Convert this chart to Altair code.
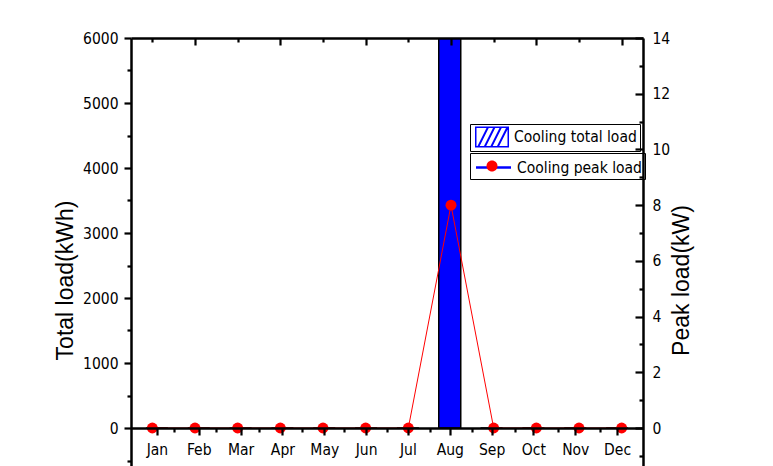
import altair as alt
import pandas as pd

# ---- data ----
months = ["Jan", "Feb", "Mar", "Apr", "May", "Jun", "Jul", "Aug", "Sep", "Oct", "Nov", "Dec"]
month_num = list(range(1, 13))
total_load = [0, 0, 0, 0, 0, 0, 0, 6300, 0, 0, 0, 0]   # Aug bar runs off the top (clipped)
peak_load = [0, 0, 0, 0, 0, 0, 0, 8, 0, 0, 0, 0]
left_major = [0, 1000, 2000, 3000, 4000, 5000, 6000]
left_minor = [-500, 500, 1500, 2500, 3500, 4500, 5500]
right_major = [0, 2, 4, 6, 8, 10, 12, 14]
right_minor = [-1, 1, 3, 5, 7, 9, 11, 13]
bottom_minor = [1.5, 2.5, 3.5, 4.5, 5.5, 6.5, 7.5, 8.5, 9.5, 10.5, 11.5]
top_major = [2, 4, 6, 8, 10, 12]
top_minor = [1, 3, 5, 7, 9, 11]
legend_labels = ["Cooling total load", "Cooling peak load"]

df = pd.DataFrame({"month": months, "m": month_num, "total": total_load, "peak": peak_load})

# ---- layout ----
W, H = 512, 428
ZB = 38  # distance of the zero line above the bottom of the plot
LEFT_TOP, RIGHT_TOP = 6000, 14
left_min = -LEFT_TOP * ZB / (H - ZB)
right_min = -RIGHT_TOP * ZB / (H - ZB)

xs = alt.Scale(domain=[0.5, 12.5], nice=False, zero=False)
ysL = alt.Scale(domain=[left_min, LEFT_TOP], nice=False, zero=False)
ysR = alt.Scale(domain=[right_min, RIGHT_TOP], nice=False, zero=False)

FN = "DejaVu Sans Condensed, Liberation Sans Narrow, sans-serif"
TF = "Liberation Sans, Arial, sans-serif"
LFS = 15.5
label_expr = "[" + ",".join(f"'{m}'" for m in months) + "][round(datum.value)-1]"


def ax(**kw):
    d = dict(grid=False, zindex=1, domainColor="black", domainWidth=2.5,
             tickColor="black", tickWidth=2.2, labelFont=FN, labelFontSize=LFS,
             labelColor="black", title=None, labelFlush=False, labelOverlap=False)
    d.update(kw)
    return alt.Axis(**d)


base = alt.Chart(df)

bars = base.mark_bar(size=22, color="#0000ff", stroke="black", strokeWidth=1.5, clip=True).encode(
    x=alt.X("m:Q", scale=xs, axis=ax(orient="bottom", offset=-ZB, values=month_num, tickSize=7,
                                     labelExpr=label_expr, labelPadding=7)),
    y=alt.Y("total:Q", scale=ysL, axis=ax(orient="left", values=left_major, tickSize=7, labelPadding=6,
                                          format="d", title="Total load(kWh)", titleFont=TF,
                                          titleFontSize=23, titleFontWeight="normal", titleColor="black",
                                          titleX=-66, titleY=242, titleAngle=270,
                                          titleBaseline="middle", titleAlign="center")),
    y2=alt.datum(0),
)

minor_bl = base.mark_point(opacity=0).encode(
    x=alt.X("m:Q", scale=xs, axis=ax(orient="bottom", offset=-ZB, values=bottom_minor, tickSize=4,
                                     labels=False, domain=False)),
    y=alt.Y("total:Q", scale=ysL, axis=ax(orient="left", values=left_minor, tickSize=4,
                                          labels=False, domain=False)),
)

top_maj = base.mark_point(opacity=0).encode(
    x=alt.X("m:Q", scale=xs, axis=ax(orient="bottom", offset=-H, values=top_major, tickSize=7,
                                     labels=False)),
    y=alt.Y("total:Q", scale=ysL, axis=None),
)
top_min = base.mark_point(opacity=0).encode(
    x=alt.X("m:Q", scale=xs, axis=ax(orient="bottom", offset=-H, values=top_minor, tickSize=4,
                                     labels=False, domain=False)),
    y=alt.Y("total:Q", scale=ysL, axis=None),
)

line = base.mark_line(color="red", strokeWidth=1).encode(
    x=alt.X("m:Q", scale=xs, axis=None),
    y=alt.Y("peak:Q", scale=ysR, axis=ax(orient="right", values=right_major, ticks=False, labelPadding=9,
                                         title="Peak load(kW)", titleFont=TF, titleFontSize=23,
                                         titleFontWeight="normal", titleColor="black",
                                         titleX=38, titleY=242, titleAngle=270,
                                         titleBaseline="middle", titleAlign="center")),
)
r_maj = base.mark_point(opacity=0).encode(
    x=alt.X("m:Q", scale=xs, axis=None),
    y=alt.Y("peak:Q", scale=ysR, axis=ax(orient="left", offset=-W, values=right_major, tickSize=8,
                                         labels=False, domain=False)),
)
r_min = base.mark_point(opacity=0).encode(
    x=alt.X("m:Q", scale=xs, axis=None),
    y=alt.Y("peak:Q", scale=ysR, axis=ax(orient="left", offset=-W, values=right_minor, tickSize=4,
                                         labels=False, domain=False)),
)

points = base.mark_circle(color="red", size=120, opacity=1).encode(
    x=alt.X("m:Q", scale=xs, axis=None),
    y=alt.Y("peak:Q", scale=ysR, axis=None),
)

# ---- legends (two bordered boxes) ----
HATCH = ("M-1.7,-1.05H1.7V1.05H-1.7Z M-1.55,-0.9V0.9H1.55V-0.9Z "
         "M-1.45,0.9L-1.23,0.9L-0.33,-0.9L-0.55,-0.9Z "
         "M-0.8,0.9L-0.58,0.9L0.32,-0.9L0.1,-0.9Z "
         "M-0.15,0.9L0.07,0.9L0.97,-0.9L0.75,-0.9Z "
         "M0.5,0.9L0.72,0.9L1.55,-0.76L1.55,-0.9L1.4,-0.9Z")
LINE = "M-1.75,0H1.75"
DOT = "M-0.55,0A0.55,0.55 0 1,1 0.55,0A0.55,0.55 0 1,1 -0.55,0Z"

LEGX = 339
common_leg = dict(orient="none", legendX=LEGX, title=None, padding=3, symbolSize=400,
                  symbolOffset=9, labelOffset=12, symbolOpacity=1, labelFont=FN,
                  labelFontSize=15.5, labelColor="black")

leg1 = alt.Chart(pd.DataFrame({"series": [legend_labels[0]]})).mark_point(
    filled=True, fill="#0000ff", strokeWidth=0, opacity=0).encode(
    shape=alt.Shape("series:N", scale=alt.Scale(range=[HATCH]),
                    legend=alt.Legend(legendY=86, strokeColor="black", fillColor="white",
                                      symbolFillColor="#0000ff", symbolStrokeWidth=0, **common_leg)))

leg2 = alt.Chart(pd.DataFrame({"series": [legend_labels[1]]})).mark_point(
    filled=False, stroke="#0000ff", strokeWidth=2.5, opacity=0).encode(
    shape=alt.Shape("series:N", scale=alt.Scale(range=[LINE]),
                    legend=alt.Legend(legendY=115, strokeColor="black", fillColor="white",
                                      symbolStrokeColor="#0000ff", symbolStrokeWidth=2.5, **common_leg)))

leg3 = alt.Chart(pd.DataFrame({"series": [legend_labels[1]]})).mark_point(
    filled=True, fill="red", strokeWidth=0, opacity=0).encode(
    shape=alt.Shape("series:N", scale=alt.Scale(range=[DOT]),
                    legend=alt.Legend(legendY=115, symbolFillColor="red", symbolStrokeWidth=0,
                                      labelExpr="''", **common_leg)))

chart = alt.layer(bars, minor_bl, top_maj, top_min, line, r_maj, r_min, points, leg1, leg2, leg3).resolve_scale(
    x="independent", y="independent", shape="independent"
).resolve_axis(
    x="independent", y="independent"
).resolve_legend(
    shape="independent"
).properties(
    width=W, height=H,
    autosize=alt.AutoSizeParams(type="none"),
    padding={"left": 131, "top": 38, "right": 130, "bottom": 0},
    background="white",
).configure_view(stroke="transparent")

chart.save("out.html", embed_options={"renderer": "svg", "actions": False})
